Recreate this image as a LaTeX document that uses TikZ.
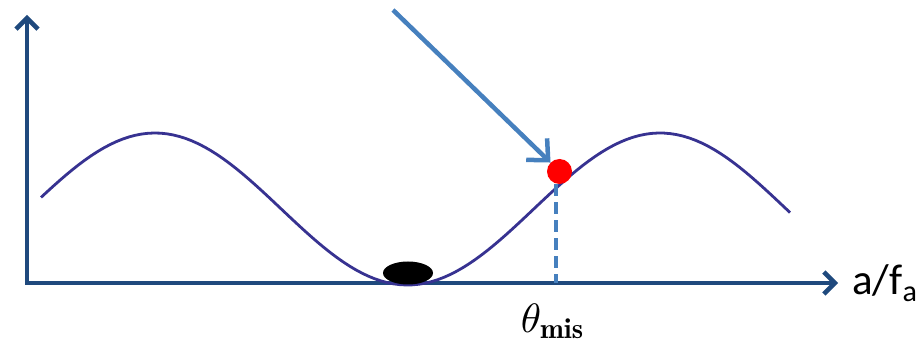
\documentclass[tikz,border=0pt]{standalone}
\usepackage{fontspec}
\newfontfamily\labelfont{Carlito}
\usetikzlibrary{arrows.meta,positioning,shapes.geometric}
\definecolor{axisblue}{RGB}{31,73,125}
\definecolor{curveblue}{RGB}{55,50,145}
\definecolor{pointblue}{RGB}{70,128,190}

\begin{document}
\begin{tikzpicture}[x=1pt,y=1pt,>={Straight Barb[length=11pt,width=22pt]}]
  \tikzstyle{axis}=[draw=axisblue,line width=4.5pt]
  \tikzstyle{potential}=[draw=curveblue,line width=2.8pt]
  \useasboundingbox (0,0) rectangle (919,348);
  % axes
  \coordinate (origin) at (27,65);
  \coordinate (ytop) at (27,333);
  \coordinate (xend) at (838,65);
  \draw[axis,->,line cap=rect] (origin) -- (ytop);
  \draw[axis,->,line cap=rect] (origin) -- (xend);
  \node[anchor=base west,font=\labelfont\fontsize{43}{48}\selectfont,inner sep=0] (xlab) at (852,53) {a/f\textsubscript{a}};
  % potential
  \draw[potential] plot[domain=41:790,samples=120] (\x,{139+76*cos(0.71287*(\x-155))});
  \node[ellipse,fill=black,minimum width=50pt,minimum height=23pt,inner sep=0] (ball) at (408,75) {};
  % misalignment
  \coordinate (foot) at (556,65);
  \node[circle,fill=red,minimum size=25pt,inner sep=0] (dot) at (559.5,176.5) {};
  \draw[draw=pointblue,line width=4pt,dash pattern=on 12pt off 6pt] (dot.south -| foot) -- (foot);
  \coordinate (start) at (393,338);
  \draw[draw=pointblue,line width=4.5pt,-{Straight Barb[length=16pt,width=30pt]}] (start) -- (dot.north west);
  \node[below=20pt of foot,xshift=-3pt,inner sep=0,scale=4.1] (theta) {$\theta_{\mathbf{mis}}$};
\end{tikzpicture}
\end{document}
